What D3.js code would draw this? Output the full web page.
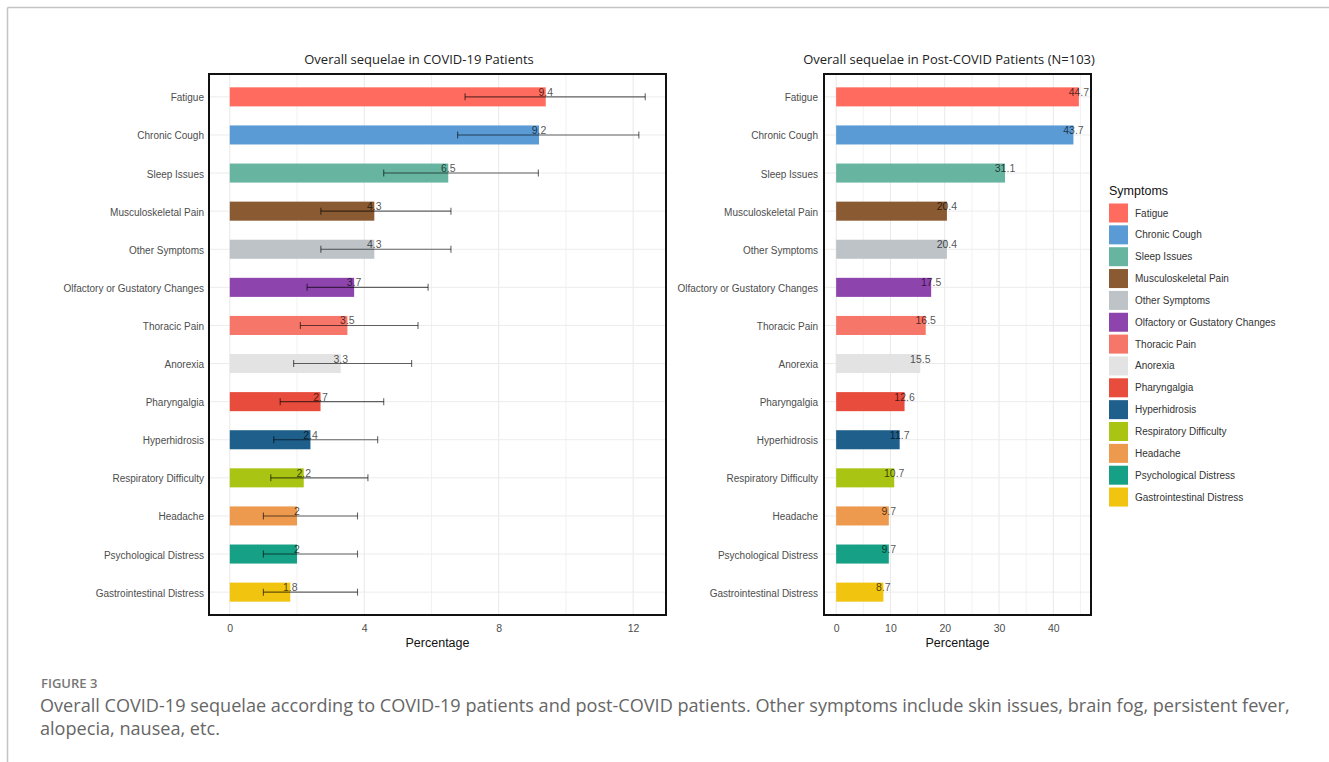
<!DOCTYPE html>
<html>
<head>
<meta charset="utf-8">
<script src="https://cdn.jsdelivr.net/npm/d3@7"></script>
<style>
  html, body { margin: 0; padding: 0; background: #fff; }
  svg { display: block; }
</style>
</head>
<body>
<svg id="fig" width="1329" height="762"></svg>
<script>
// Symptom categories, top to bottom
const categories = [
  "Fatigue", "Chronic Cough", "Sleep Issues", "Musculoskeletal Pain",
  "Other Symptoms", "Olfactory or Gustatory Changes", "Thoracic Pain",
  "Anorexia", "Pharyngalgia", "Hyperhidrosis", "Respiratory Difficulty",
  "Headache", "Psychological Distress", "Gastrointestinal Distress"
];

// COVID-19 patients: percentage with confidence interval
const covidPct  = [9.4, 9.2, 6.5, 4.3, 4.3, 3.7, 3.5, 3.3, 2.7, 2.4, 2.2, 2, 2, 1.8];
const covidLow  = [7.0, 6.78, 4.58, 2.71, 2.71, 2.30, 2.10, 1.90, 1.50, 1.31, 1.22, 1.0, 1.0, 1.0];
const covidHigh = [12.36, 12.17, 9.18, 6.58, 6.58, 5.90, 5.60, 5.41, 4.58, 4.40, 4.11, 3.80, 3.80, 3.80];

// Post-COVID patients (N=103): percentage
const postCovidPct = [44.7, 43.7, 31.1, 20.4, 20.4, 17.5, 16.5, 15.5, 12.6, 11.7, 10.7, 9.7, 9.7, 8.7];

// Fill colour per symptom
const symptomColors = [
  "#FF6B5E", "#5B9BD5", "#67B5A1", "#8A5A32", "#BDC3C7", "#8E44AD", "#F7766A",
  "#E3E3E3", "#E74C3C", "#1F5F8B", "#A9C412", "#ED9A4E", "#16A085", "#F1C40F"
];

// Axis ticks
const covidMajorTicks = [0, 4, 8, 12];
const covidMinorTicks = [2, 6, 10];
const postMajorTicks = [0, 10, 20, 30, 40];
const postMinorTicks = [5, 15, 25, 35, 45];

const svg = d3.select("#fig");
const color = d3.scaleOrdinal().domain(categories).range(symptomColors);

// outer figure frame (top and left rules)
svg.append("line").attr("x1", 7.5).attr("x2", 1329).attr("y1", 7.5).attr("y2", 7.5)
  .attr("stroke", "#c4c4c4").attr("stroke-width", 1.5);
svg.append("line").attr("x1", 7.5).attr("x2", 7.5).attr("y1", 7.5).attr("y2", 762)
  .attr("stroke", "#c4c4c4").attr("stroke-width", 1.5);

function drawPanel(cfg) {
  const g = svg.append("g");
  const { left, right, top, bottom } = cfg;

  const dataMax = d3.max(cfg.high || cfg.values);
  const pad = dataMax * 0.05;
  const x = d3.scaleLinear().domain([-pad, dataMax + pad]).range([left, right]);
  const y = d3.scalePoint().domain(categories).range([top, bottom]).padding(0.6);
  const barH = y.step() * 0.5;

  // grid
  const grid = g.append("g");
  grid.selectAll("line.minor").data(cfg.minor.filter(d => x(d) < right)).join("line")
    .attr("x1", d => x(d)).attr("x2", d => x(d)).attr("y1", top).attr("y2", bottom)
    .attr("stroke", "#efefef").attr("stroke-width", 0.8);
  grid.selectAll("line.major").data(cfg.major).join("line")
    .attr("x1", d => x(d)).attr("x2", d => x(d)).attr("y1", top).attr("y2", bottom)
    .attr("stroke", "#e8e8e8").attr("stroke-width", 1);
  grid.selectAll("line.h").data(categories).join("line")
    .attr("x1", left).attr("x2", right).attr("y1", d => y(d)).attr("y2", d => y(d))
    .attr("stroke", "#ececec").attr("stroke-width", 1);

  // bars
  g.selectAll("rect.bar").data(categories).join("rect")
    .attr("x", x(0))
    .attr("y", d => y(d) - barH / 2)
    .attr("width", (d, i) => x(cfg.values[i]) - x(0))
    .attr("height", barH)
    .attr("fill", d => color(d));

  // error bars
  if (cfg.low) {
    const eb = g.append("g").attr("stroke", "#000").attr("stroke-opacity", 0.6).attr("stroke-width", 1.1);
    categories.forEach((c, i) => {
      const cy = y(c), x0 = x(cfg.low[i]), x1 = x(cfg.high[i]);
      eb.append("line").attr("x1", x0).attr("x2", x1).attr("y1", cy).attr("y2", cy);
      eb.append("line").attr("x1", x0).attr("x2", x0).attr("y1", cy - 3.5).attr("y2", cy + 3.5);
      eb.append("line").attr("x1", x1).attr("x2", x1).attr("y1", cy - 3.5).attr("y2", cy + 3.5);
    });
  }

  // value labels at bar end
  g.selectAll("text.val").data(categories).join("text")
    .attr("x", (d, i) => x(cfg.values[i]))
    .attr("y", d => y(d) - 1)
    .attr("text-anchor", "middle")
    .attr("font-family", "Liberation Sans, Arial, sans-serif")
    .attr("font-size", 10.5)
    .attr("fill", "#000").attr("fill-opacity", 0.7)
    .text((d, i) => cfg.values[i]);

  // category labels
  g.selectAll("text.cat").data(categories).join("text")
    .attr("x", cfg.labelRight)
    .attr("y", d => y(d) + 1)
    .attr("dy", "0.35em")
    .attr("text-anchor", "end")
    .attr("font-family", "Liberation Sans, Arial, sans-serif")
    .attr("font-size", 10)
    .attr("fill", "#4d4d4d")
    .text(d => d);

  // x axis tick labels
  const axis = d3.axisBottom(x).tickValues(cfg.major).tickSize(0).tickPadding(0).tickFormat(d3.format("d"));
  const ax = g.append("g").attr("transform", `translate(0,${bottom + 17})`).call(axis);
  ax.select(".domain").remove();
  ax.selectAll("text")
    .attr("font-family", "Liberation Sans, Arial, sans-serif")
    .attr("font-size", 10.5).attr("fill", "#4d4d4d").attr("dy", 0);

  // axis title
  g.append("text")
    .attr("x", (left + right) / 2).attr("y", bottom + 32)
    .attr("text-anchor", "middle")
    .attr("font-family", "Liberation Sans, Arial, sans-serif")
    .attr("font-size", 12.5).attr("fill", "#111")
    .text("Percentage");

  // panel border
  g.append("rect")
    .attr("x", left).attr("y", top).attr("width", right - left).attr("height", bottom - top)
    .attr("fill", "none").attr("stroke", "#111").attr("stroke-width", 2);

  // title
  g.append("text")
    .attr("x", cfg.titleX).attr("y", 64)
    .attr("text-anchor", "middle")
    .attr("font-family", "Open Sans, Noto Sans, sans-serif")
    .attr("font-size", 13).attr("fill", "#222")
    .text(cfg.title);
}

drawPanel({
  left: 209, right: 666, top: 74, bottom: 615,
  values: covidPct, low: covidLow, high: covidHigh,
  major: covidMajorTicks, minor: covidMinorTicks,
  labelRight: 204, titleX: 419,
  title: "Overall sequelae in COVID-19 Patients"
});

drawPanel({
  left: 824, right: 1091, top: 74, bottom: 615,
  values: postCovidPct,
  major: postMajorTicks, minor: postMinorTicks,
  labelRight: 818, titleX: 949,
  title: "Overall sequelae in Post-COVID Patients (N=103)"
});

// legend
const legend = svg.append("g").attr("transform", "translate(1109,0)");
legend.append("text")
  .attr("x", 0).attr("y", 195)
  .attr("font-family", "Liberation Sans, Arial, sans-serif")
  .attr("font-size", 12.5).attr("fill", "#111")
  .text("Symptoms");
const keyStep = 21.85;
const items = legend.selectAll("g.item").data(categories).join("g")
  .attr("transform", (d, i) => `translate(0,${213 + i * keyStep})`);
items.append("rect")
  .attr("x", 0).attr("y", -9.5).attr("width", 19).attr("height", 19)
  .attr("fill", d => color(d));
items.append("text")
  .attr("x", 26).attr("y", 0).attr("dy", "0.35em")
  .attr("font-family", "Liberation Sans, Arial, sans-serif")
  .attr("font-size", 10).attr("fill", "#333")
  .text(d => d);

// caption
const cap = svg.append("g").attr("font-family", "Open Sans, Lato, sans-serif");
cap.append("text").attr("x", 41).attr("y", 688)
  .attr("font-size", 13).attr("font-weight", 600).attr("fill", "#777")
  .text("FIGURE 3");
cap.append("text").attr("x", 40).attr("y", 712)
  .attr("font-size", 18.1).attr("fill", "#666")
  .text("Overall COVID-19 sequelae according to COVID-19 patients and post-COVID patients. Other symptoms include skin issues, brain fog, persistent fever,");
cap.append("text").attr("x", 40).attr("y", 735)
  .attr("font-size", 18.1).attr("fill", "#666")
  .text("alopecia, nausea, etc.");
</script>
</body>
</html>
